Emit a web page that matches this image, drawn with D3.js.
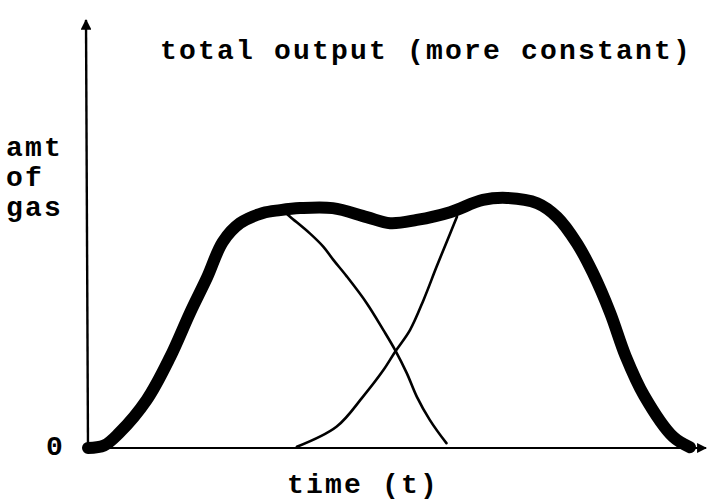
<!DOCTYPE html>
<html>
<head>
<meta charset="utf-8">
<script src="https://cdn.jsdelivr.net/npm/d3@7"></script>
<style>
  html, body { margin: 0; padding: 0; background: #fff; }
  text { font-family: "Liberation Mono", "Courier New", Courier, monospace; font-weight: bold; fill: #000; }
</style>
</head>
<body>
<svg id="chart" width="707" height="501"></svg>
<script>
// Data (time units 0..100, amount units 0..100)
const totalOutput = [
  [0, 0], [2.6, 0.6], [5.0, 3.6], [9.5, 11.8], [13.3, 22.3], [16.5, 33.1],
  [19.3, 41.9], [21.8, 50.5], [24.6, 55.1], [28.3, 57.6], [31.1, 58.3],
  [34.3, 58.8], [39.6, 58.8], [45.1, 56.6], [48.9, 55.1], [53.2, 55.9],
  [58.6, 57.8], [63.9, 60.8], [67.8, 61.3], [72.7, 60.0], [75.9, 56.6],
  [79.1, 50.2], [81.7, 42.9], [84.5, 33.1], [87.0, 22.5], [90.0, 12.8],
  [94.7, 2.7], [97.4, 0.2]
];
const firstSource = [
  [31.9, 57.8], [32.7, 56.7], [35.9, 52.6], [38.1, 49.3], [39.7, 46.1],
  [41.9, 42.0], [45.1, 35.5], [47.8, 28.9], [49.7, 24.0], [51.6, 18.3],
  [53.2, 12.6], [55.3, 6.9], [58.0, 1.2]
];
const secondSource = [
  [33.8, 0.3], [40.2, 5.2], [44.5, 12.6], [47.8, 19.1], [49.7, 23.6],
  [52.1, 28.9], [54.3, 36.3], [56.4, 44.4], [58.6, 52.6], [59.7, 56.7]
];
const titleText = "total output (more constant)";
const yLabelLines = ["amt", "of", "gas"];
const yTickLabels = ["0"];
const xLabelText = "time (t)";

const svg = d3.select("#chart");
const x = d3.scaleLinear().domain([0, 100]).range([88, 706]);
const y = d3.scaleLinear().domain([0, 100]).range([448, 40]);

// arrow markers
const defs = svg.append("defs");
defs.append("marker").attr("id", "arrow")
  .attr("viewBox", "0 0 10 10").attr("refX", 9).attr("refY", 5)
  .attr("markerWidth", 5).attr("markerHeight", 4.5).attr("orient", "auto")
  .attr("markerUnits", "strokeWidth")
  .append("path").attr("d", "M0,0 L10,5 L0,10 Z").attr("fill", "#000");

// axes (hand drawn lines)
svg.append("line")
  .attr("x1", x(0)).attr("y1", y(0) + 1)
  .attr("x2", x(0) - 2).attr("y2", 20)
  .attr("stroke", "#000").attr("stroke-width", 2.4)
  .attr("marker-end", "url(#arrow)");
svg.append("line")
  .attr("x1", x(0)).attr("y1", y(0))
  .attr("x2", 706).attr("y2", y(0))
  .attr("stroke", "#000").attr("stroke-width", 2.2)
  .attr("marker-end", "url(#arrow)");

const line = d3.line()
  .x(d => x(d[0])).y(d => y(d[1]))
  .curve(d3.curveCatmullRom.alpha(0.5));

svg.append("path").datum(firstSource)
  .attr("d", line).attr("fill", "none")
  .attr("stroke", "#000").attr("stroke-width", 2.6)
  .attr("stroke-linecap", "round").attr("stroke-linejoin", "round");
svg.append("path").datum(secondSource)
  .attr("d", line).attr("fill", "none")
  .attr("stroke", "#000").attr("stroke-width", 2.6)
  .attr("stroke-linecap", "round").attr("stroke-linejoin", "round");
svg.append("path").datum(totalOutput)
  .attr("d", line).attr("fill", "none")
  .attr("stroke", "#000").attr("stroke-width", 12)
  .attr("stroke-linecap", "round").attr("stroke-linejoin", "round");

// texts
svg.append("text").attr("x", 160).attr("y", 59)
  .attr("font-size", 28).attr("letter-spacing", 2.2)
  .text(titleText);

svg.selectAll("text.ylab").data(yLabelLines).enter().append("text")
  .attr("class", "ylab")
  .attr("x", 6).attr("y", (d, i) => 156 + i * 30)
  .attr("font-size", 28).attr("letter-spacing", 2.2)
  .text(d => d);

svg.selectAll("text.ytick").data(yTickLabels).enter().append("text")
  .attr("class", "ytick")
  .attr("x", 46).attr("y", y(0) + 7)
  .attr("font-size", 28)
  .text(d => d);

svg.append("text").attr("x", 287).attr("y", 493)
  .attr("font-size", 28).attr("letter-spacing", 2.2)
  .text(xLabelText);
</script>
</body>
</html>
